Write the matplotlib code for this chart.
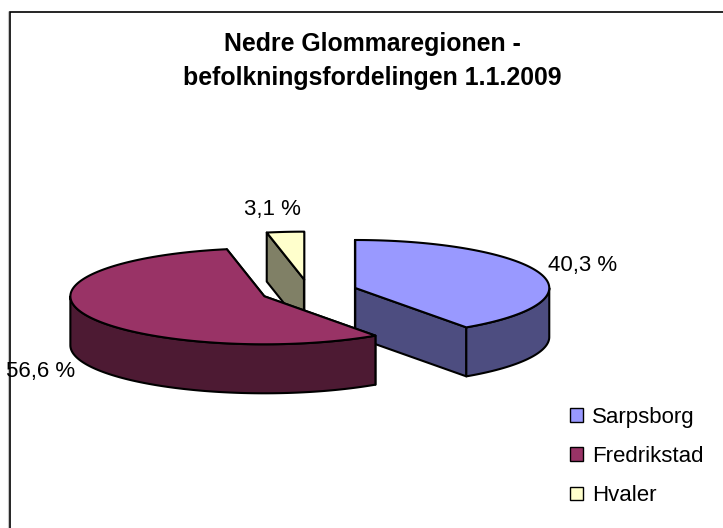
import numpy as np
import matplotlib
matplotlib.use("Agg")
import matplotlib.pyplot as plt
from matplotlib.patches import Polygon, Patch

plt.rcParams['font.family'] = ['Liberation Sans', 'DejaVu Sans']

title = "Nedre Glommaregionen -\nbefolkningsfordelingen 1.1.2009"
categories = ["Sarpsborg", "Fredrikstad", "Hvaler"]
values = [40.3, 56.6, 3.1]
value_labels = ["40,3 %", "56,6 %", "3,1 %"]
top_colors = ["#9999FF", "#993366", "#FFFFCC"]
side_colors = ["#4D4D80", "#4D1A33", "#808066"]

CX, CY = 309.0, 291.6
RX, RY, DEPTH = 194.0, 48.0, 49.0
EXPLODE = 0.25
LW = 1.5
label_pos = [(583, 265), (40.5, 372), (272, 210)]

fig = plt.figure(figsize=(7.23, 5.28), dpi=100, facecolor="white")
ax = fig.add_axes([0, 0, 1, 1])
ax.set_xlim(0, 723)
ax.set_ylim(528, 0)
ax.axis("off")

# chart frame: only the top and left edges show in the picture
ax.plot([8.2, 8.2], [11, 528], color="#C4C4C4", lw=0.8, zorder=0, solid_capstyle="butt")
ax.plot([9.5, 9.5, 723], [528, 11.8, 11.8], color="black", lw=1.2, zorder=0,
        solid_joinstyle="miter", solid_capstyle="butt")


def arc(cx, cy, a0, a1, n=120):
    t = np.radians(np.linspace(a0, a1, n))
    return np.column_stack([cx + RX * np.sin(t), cy - RY * np.cos(t)])


total = sum(values)
angles = np.concatenate([[0], np.cumsum(values) / total * 360])
order = [2, 0, 1]  # painter's order, back to front
for z, i in enumerate(order, start=1):
    a0, a1 = angles[i], angles[i + 1]
    mid = np.radians((a0 + a1) / 2)
    cx = CX + EXPLODE * RX * np.sin(mid)
    cy = CY - EXPLODE * RY * np.cos(mid)
    kw = dict(ec="black", lw=LW, joinstyle="round", zorder=z)
    # radial cut faces
    for a in (a0, a1):
        p = arc(cx, cy, a, a, 1)[0]
        ax.add_patch(Polygon([(cx, cy), p, p + [0, DEPTH], (cx, cy + DEPTH)],
                             fc=side_colors[i], **kw))
    # outer wall (front half only)
    w0, w1 = max(a0, 90), min(a1, 270)
    if w1 > w0:
        edge = arc(cx, cy, w0, w1)
        ax.add_patch(Polygon(np.vstack([edge, (edge + [0, DEPTH])[::-1]]),
                             fc=side_colors[i], **kw))
    # top face
    ax.add_patch(Polygon(np.vstack([[cx, cy], arc(cx, cy, a0, a1)]),
                         fc=top_colors[i], **kw))

for (x, y), s in zip(label_pos, value_labels):
    ax.text(x, y, s, ha="center", va="center", fontsize=16, color="black", zorder=10)

ax.text(372, 61, title, ha="center", va="center", fontsize=17.9, fontweight="bold",
        linespacing=1.5, zorder=10)

handles = [Patch(fc=c, ec="black", lw=1.0) for c in top_colors]
ax.legend(handles, categories, loc="upper left", bbox_to_anchor=(570 / 723, 1 - 406.5 / 528),
          bbox_transform=fig.transFigure, frameon=False, fontsize=16,
          handlelength=0.585, handleheight=0.585, handletextpad=0.4,
          labelspacing=0.83, borderpad=0, borderaxespad=0)

fig.savefig("out.png", dpi=100)
